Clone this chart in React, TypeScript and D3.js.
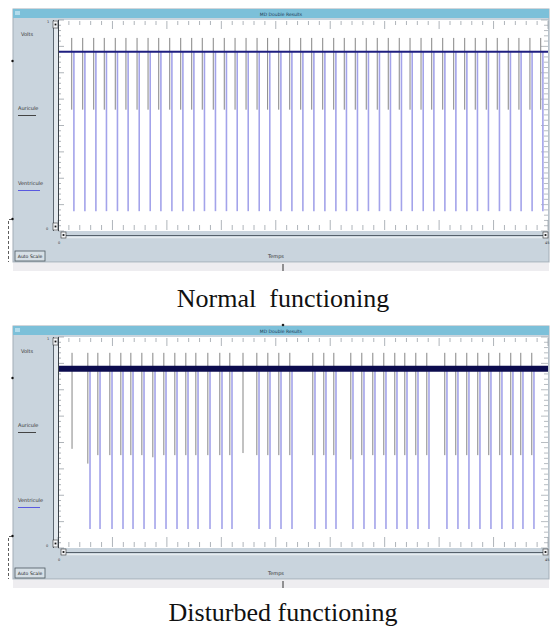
import React, { useEffect, useRef } from "react";
import * as d3 from "d3";

// beat times (time units)
const normalAtrial = [
  1.26, 2.27, 3.28, 4.25, 5.26, 6.24, 7.26, 8.27, 9.25, 10.26, 11.27, 12.28, 13.25, 14.26, 15.27,
  16.26, 17.27, 18.28, 19.25, 20.27, 21.28, 22.29, 23.3, 24.31, 25.32, 26.29, 27.3, 28.31, 29.32,
  30.33, 31.34, 32.33, 33.34, 34.32, 35.33, 36.34, 37.35, 38.32, 39.33, 40.34, 41.35, 42.33, 43.34,
  44.33,
];
const normalVentricle = [
  1.46, 2.47, 3.48, 4.45, 5.46, 6.44, 7.46, 8.47, 9.45, 10.46, 11.47, 12.48, 13.45, 14.46, 15.47,
  16.46, 17.47, 18.48, 19.45, 20.47, 21.48, 22.49, 23.5, 24.51, 25.52, 26.49, 27.5, 28.51, 29.52,
  30.53, 31.54, 32.53, 33.54, 34.52, 35.53, 36.54, 37.55, 38.52, 39.53, 40.54, 41.55, 42.53, 43.54,
  44.53,
];

const disturbedAtrial = [
  1.29, 2.74, 3.66, 4.76, 5.77, 6.69, 7.7, 8.71, 9.72, 10.73, 11.74, 12.66, 13.76, 14.86, 15.78,
  16.99, 18.26, 19.27, 20.28, 21.29, 23.4, 24.41, 25.33, 26.89, 27.9, 28.91, 29.92, 30.93, 31.85,
  32.86, 33.87, 35.52, 36.53, 37.54, 38.55, 39.56, 40.57, 41.58, 42.5, 43.51,
];
// lowest voltage reached by each atrial spike in the disturbed trace
const disturbedAtrialLow = [
  0.47, 0.4, 0.44, 0.44, 0.44, 0.44, 0.44, 0.43, 0.44, 0.44, 0.44, 0.44, 0.44, 0.44, 0.44,
  0.45, 0.44, 0.44, 0.44, 0.44, 0.44, 0.44, 0.44, 0.42, 0.44, 0.44, 0.44, 0.44, 0.44,
  0.44, 0.44, 0.44, 0.44, 0.44, 0.44, 0.44, 0.44, 0.44, 0.44, 0.44,
];
const disturbedVentricle = [
  2.94, 3.86, 4.96, 5.97, 6.89, 7.9, 8.91, 9.92, 10.93, 11.94, 12.86, 13.96, 15.06, 15.98,
  18.46, 19.47, 20.48, 21.49, 23.6, 24.61, 25.53, 27.09, 28.1, 29.11, 30.12, 31.13, 32.05,
  33.06, 34.07, 35.72, 36.73, 37.74, 38.75, 39.76, 40.77, 41.78, 42.7, 43.71,
];

// voltage levels: baseline, atrial peak, normal atrial low, ventricle low
const baselineVolt = 0.849;
const atrialPeak = [0.915, 0.925];
const normalAtrialLow = 0.575;
const ventricleLow = [0.094, 0.09];

const timeDomain = [0, 45];
const captions = ["Normal  functioning", "Disturbed functioning"];
const sideLabels = ["Volts", "Auricule", "Ventricule"];
const windowTitle = "MD Double Results";

const PANEL_BG = "#c9d4dd";
const SANS = "DejaVu Sans, sans-serif";

export default function App() {
  const ref = useRef<SVGSVGElement>(null);

  useEffect(() => {
    const svg = d3.select(ref.current);
    svg.selectAll("*").remove();

    const x = d3.scaleLinear().domain(timeDomain).range([58, 548]);
    const y = d3.scaleLinear().domain([0, 1]).range([231, 20]);

    const panels = [
      {
        dy: 0,
        atrial: normalAtrial,
        atrialLow: normalAtrial.map(() => normalAtrialLow),
        ventricle: normalVentricle,
        peak: atrialPeak[0],
        vLow: ventricleLow[0],
        band: 2,
        captionY: 307,
      },
      {
        dy: 317,
        atrial: disturbedAtrial,
        atrialLow: disturbedAtrialLow,
        ventricle: disturbedVentricle,
        peak: atrialPeak[1],
        vLow: ventricleLow[1],
        band: 6,
        captionY: 621,
      },
    ];

    panels.forEach((p, idx) => {
      const g = svg.append("g").attr("transform", `translate(0, ${p.dy})`);

      // window frame + title bar
      g.append("rect").attr("x", 13).attr("y", 9).attr("width", 536).attr("height", 253)
        .attr("fill", PANEL_BG).attr("stroke", "#a3aeb7");
      g.append("rect").attr("x", 13).attr("y", 9).attr("width", 536).attr("height", 9)
        .attr("fill", "#7cc0d9");
      g.append("rect").attr("x", 15).attr("y", 11).attr("width", 5).attr("height", 4)
        .attr("fill", "#b2dcec");
      g.append("text").attr("x", 281).attr("y", 15.5).attr("text-anchor", "middle")
        .attr("font-family", SANS).attr("font-size", 4.5).attr("fill", "#1d3a55")
        .text(windowTitle);

      // strip under window
      g.append("rect").attr("x", 13).attr("y", 263).attr("width", 536).attr("height", 8)
        .attr("fill", "#eeedf0");
      g.append("line").attr("x1", 283).attr("x2", 283).attr("y1", 264).attr("y2", 271)
        .attr("stroke", "#333").attr("stroke-width", 1);
      if (idx === 1) {
        g.append("circle").attr("cx", 283).attr("cy", 8).attr("r", 1.3).attr("fill", "#222");
      }

      // left-edge marks
      g.append("circle").attr("cx", 12.5).attr("cy", 61).attr("r", 1.2).attr("fill", "#111");
      g.append("circle").attr("cx", 12.5).attr("cy", 219).attr("r", 1.2).attr("fill", "#111");
      g.append("path").attr("d", "M12,219.5 H8.5 V262").attr("fill", "none")
        .attr("stroke", "#333").attr("stroke-width", 0.8).attr("stroke-dasharray", "3,2");

      // side legend
      g.append("text").attr("x", 21).attr("y", 36).attr("font-family", SANS)
        .attr("font-size", 5).attr("fill", "#333").text(sideLabels[0]);
      g.append("text").attr("x", 18).attr("y", 110).attr("font-family", SANS)
        .attr("font-size", 5).attr("fill", "#333").text(sideLabels[1]);
      g.append("line").attr("x1", 18).attr("x2", 36).attr("y1", 115.5).attr("y2", 115.5)
        .attr("stroke", "#444").attr("stroke-width", 1);
      g.append("text").attr("x", 18).attr("y", 185).attr("font-family", SANS)
        .attr("font-size", 5).attr("fill", "#333").text(sideLabels[2]);
      g.append("line").attr("x1", 18).attr("x2", 40).attr("y1", 190.5).attr("y2", 190.5)
        .attr("stroke", "#5a5ae0").attr("stroke-width", 1);

      // vertical scroll strip
      g.append("rect").attr("x", 53).attr("y", 20).attr("width", 5).attr("height", 211)
        .attr("fill", "#e3e9ee");
      g.append("line").attr("x1", 53.5).attr("x2", 53.5).attr("y1", 20).attr("y2", 231)
        .attr("stroke", "#5b6670").attr("stroke-width", 1);
      [21, 223].forEach((by) => {
        g.append("rect").attr("x", 53).attr("y", by).attr("width", 5).attr("height", 7)
          .attr("fill", "#f4f6f8").attr("stroke", "#333").attr("stroke-width", 0.6);
        g.append("rect").attr("x", 54.6).attr("y", by + 2.6).attr("width", 1.8).attr("height", 1.8)
          .attr("fill", "#111");
      });
      g.append("text").attr("x", 47).attr("y", 23).attr("font-family", SANS)
        .attr("font-size", 3.5).attr("fill", "#333").text("1");
      g.append("text").attr("x", 46).attr("y", 230).attr("font-family", SANS)
        .attr("font-size", 3.5).attr("fill", "#333").text("0");

      // plot area
      g.append("rect").attr("x", 58).attr("y", 20).attr("width", 490).attr("height", 211)
        .attr("fill", "#ffffff");

      const tickCol = "#9aa1a8";
      // top and bottom rulers
      d3.range(0, 46, 1).forEach((t) => {
        const major = t % 5 === 0;
        g.append("line").attr("x1", x(t)).attr("x2", x(t)).attr("y1", 21)
          .attr("y2", major ? 29 : 25).attr("stroke", tickCol).attr("stroke-width", 0.8);
        g.append("line").attr("x1", x(t)).attr("x2", x(t)).attr("y1", 230)
          .attr("y2", major ? 220 : 225).attr("stroke", tickCol).attr("stroke-width", 0.8);
      });
      // left and right rulers
      d3.range(0, 1.0001, 0.025).forEach((v, i) => {
        const major = i % 5 === 0;
        g.append("line").attr("x1", 58).attr("x2", major ? 64 : 61).attr("y1", y(v)).attr("y2", y(v))
          .attr("stroke", "#8c949b").attr("stroke-width", 0.7);
        g.append("line").attr("x1", 548).attr("x2", major ? 541 : 544).attr("y1", y(v)).attr("y2", y(v))
          .attr("stroke", tickCol).attr("stroke-width", 0.7);
      });
      g.append("line").attr("x1", 58.5).attr("x2", 58.5).attr("y1", 20).attr("y2", 231)
        .attr("stroke", "#3a4148").attr("stroke-width", 1);

      // ventricle traces
      g.selectAll(".vent").data(p.ventricle).enter().append("line")
        .attr("x1", (d) => x(d)).attr("x2", (d) => x(d))
        .attr("y1", y(baselineVolt)).attr("y2", y(p.vLow))
        .attr("stroke", "#a3a3ea").attr("stroke-width", 1.6);

      // atrial traces
      g.selectAll(".atr").data(p.atrial).enter().append("line")
        .attr("x1", (d) => x(d)).attr("x2", (d) => x(d))
        .attr("y1", y(p.peak)).attr("y2", (_d, i) => y(p.atrialLow[i]))
        .attr("stroke", "#858585").attr("stroke-width", 1);

      // baseline
      g.append("line").attr("x1", 59).attr("x2", 548)
        .attr("y1", y(baselineVolt)).attr("y2", y(baselineVolt))
        .attr("stroke", idx === 0 ? "#1f1f80" : "#0c0c4e").attr("stroke-width", p.band);

      // horizontal scroll bar
      g.append("line").attr("x1", 62).attr("x2", 548).attr("y1", 235.5).attr("y2", 235.5)
        .attr("stroke", "#55606a").attr("stroke-width", 1);
      g.append("line").attr("x1", 62).attr("x2", 548).attr("y1", 237.5).attr("y2", 237.5)
        .attr("stroke", "#e6ecf0").attr("stroke-width", 1.5);
      [61, 543].forEach((bx) => {
        g.append("rect").attr("x", bx).attr("y", 232).attr("width", 5).attr("height", 6)
          .attr("fill", "#f4f6f8").attr("stroke", "#333").attr("stroke-width", 0.6);
        g.append("rect").attr("x", bx + 1.6).attr("y", 234.1).attr("width", 1.8).attr("height", 1.8)
          .attr("fill", "#111");
      });
      g.append("text").attr("x", x(timeDomain[0])).attr("y", 244).attr("font-family", SANS)
        .attr("font-size", 3.5).attr("fill", "#333").text(String(timeDomain[0]));
      g.append("text").attr("x", x(timeDomain[1]) - 3).attr("y", 244).attr("font-family", SANS)
        .attr("font-size", 3.5).attr("fill", "#333").text(String(timeDomain[1]));
      g.append("text").attr("x", 276).attr("y", 258).attr("text-anchor", "middle")
        .attr("font-family", SANS).attr("font-size", 5).attr("fill", "#333").text("Temps");

      // Auto Scale button
      g.append("rect").attr("x", 15).attr("y", 251).attr("width", 30).attr("height", 10)
        .attr("fill", "#d6dfe6").attr("stroke", "#4d5860").attr("stroke-width", 0.8);
      g.append("text").attr("x", 30).attr("y", 258).attr("text-anchor", "middle")
        .attr("font-family", SANS).attr("font-size", 4.6).attr("fill", "#222").text("Auto Scale");

      // caption
      svg.append("text").attr("x", 283).attr("y", p.captionY).attr("text-anchor", "middle")
        .attr("font-family", "Liberation Serif, Times New Roman, serif").attr("font-size", 26)
        .attr("fill", "#111").style("white-space", "pre").text(captions[idx]);
    });
  }, []);

  return (
    <svg
      ref={ref}
      width={552}
      height={628}
      style={{ position: "absolute", left: 0, top: 0, background: "#ffffff" }}
    />
  );
}
